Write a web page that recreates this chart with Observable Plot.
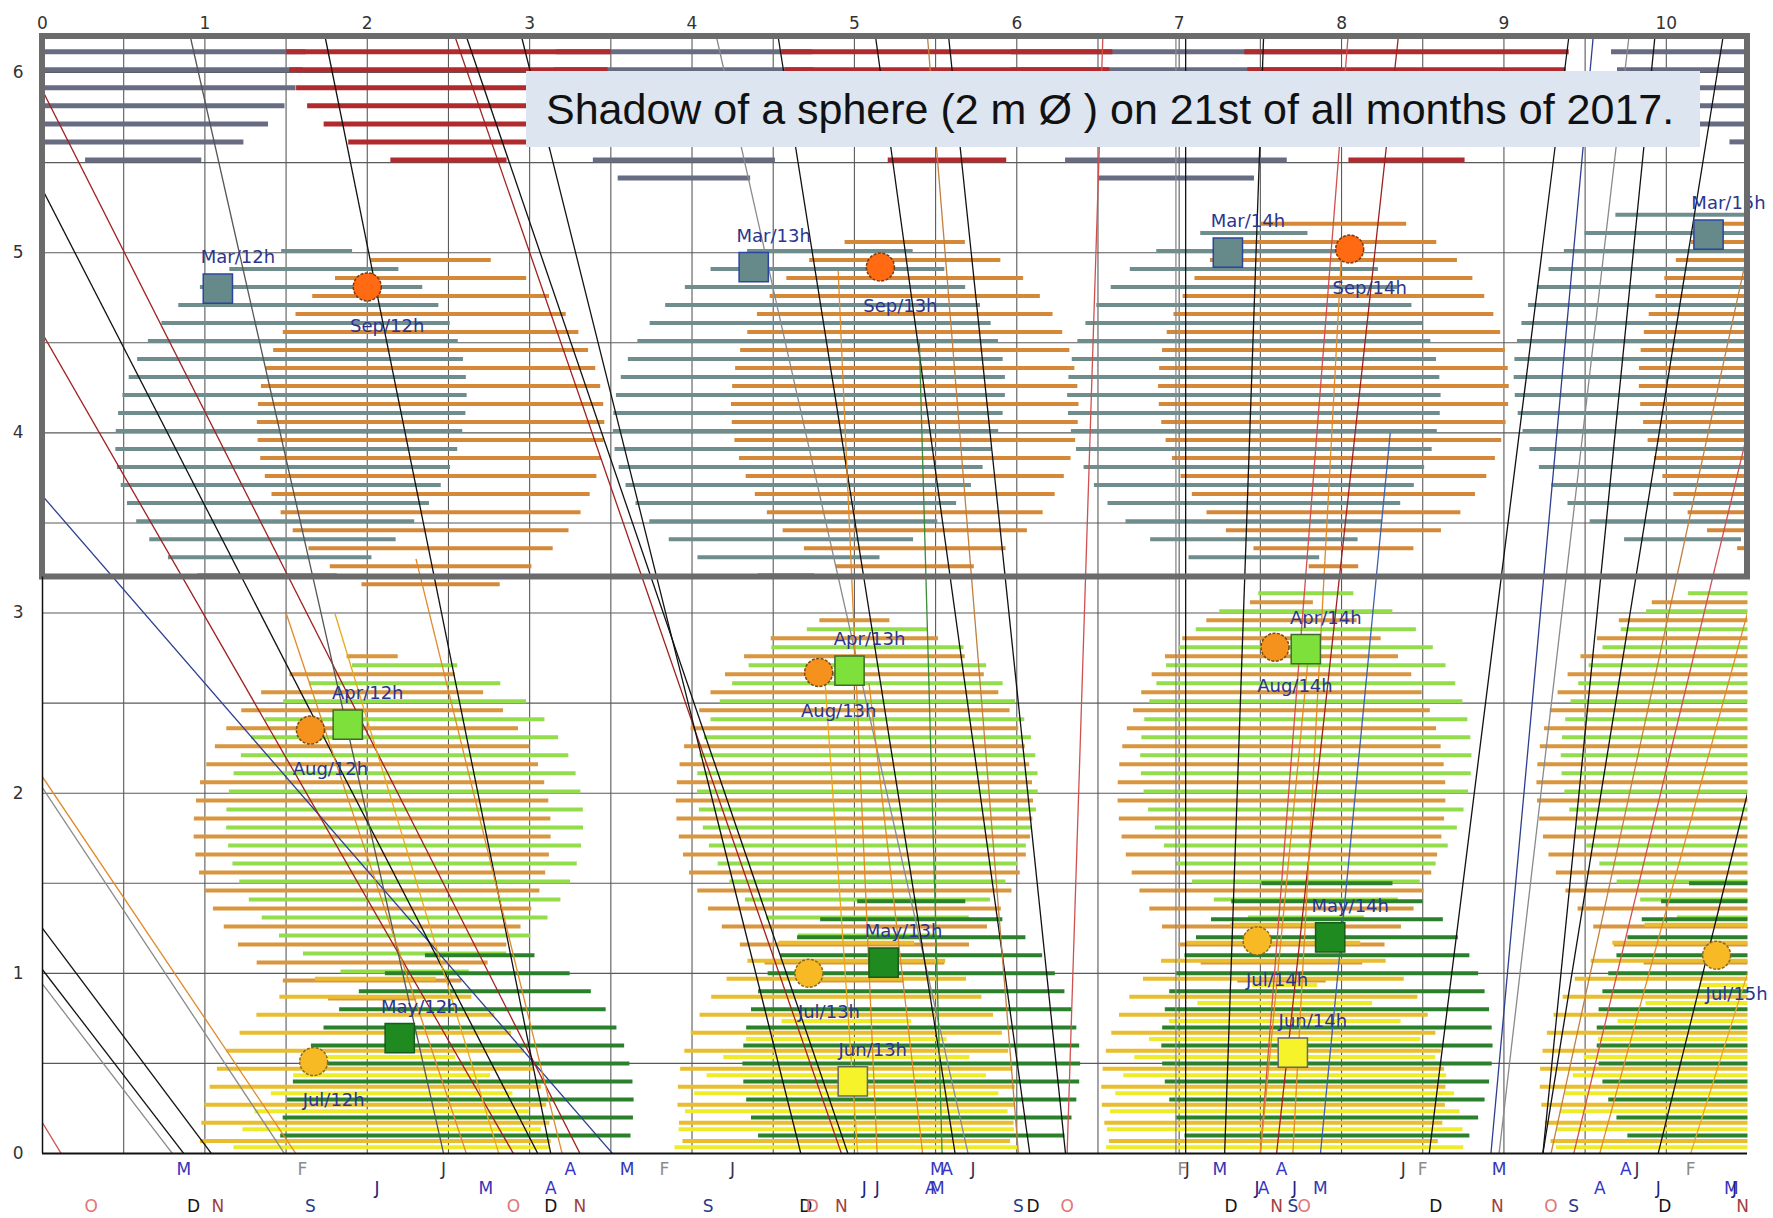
<!DOCTYPE html>
<html><head><meta charset="utf-8">
<script src="https://cdn.jsdelivr.net/npm/d3@7"></script>
<script src="https://cdn.jsdelivr.net/npm/@observablehq/plot@0.6"></script>
<style>
body{margin:0;background:#fff;}
#wrap{position:relative;width:1773px;height:1218px;}
#title{position:absolute;left:526px;top:71px;width:1174px;height:76px;background:#dce5f0;font-family:"Liberation Sans",Arial,sans-serif;font-size:43px;line-height:76px;padding-left:20px;box-sizing:border-box;color:#111;white-space:nowrap;}
</style></head><body><div id="wrap"></div>
<script>
// ---- data ----
const xTicks = [0,1,2,3,4,5,6,7,8,9,10];
const yTicks = [0,1,2,3,4,5,6];
const titleText = "Shadow of a sphere (2 m \u00D8 ) on 21st of all months of 2017.";

// shadow ellipses (hatched): month key, centre x, centre y, half width, half height, shear, row phase
const shadowKey   = ["Nov","Dec","Nov","Dec","Nov","Dec","Nov",
  "Mar","Sep","Mar","Sep","Mar","Sep","Mar","Sep",
  "Aug","Apr","Jun","Jul","May",
  "Aug","Apr","Jun","Jul","May",
  "Aug","Apr","Jun","Jul","May",
  "Aug","Apr","Jun","Jul","May"];
const shadowCx    = [0.62,2.5,3.95,5.57,6.98,8.4,10.6,
  1.53,2.39,4.72,5.31,7.46,7.95,10.1,10.75,
  2.03,2.23,2.15,2.05,2.55,
  5.0,5.08,4.95,4.95,5.35,
  7.63,7.78,7.65,7.58,7.91,
  10.3,10.45,10.4,10.3,10.6];
const shadowCy    = [6.15,6.15,6.0,6.15,6.05,6.15,6.2,
  4.08,4.05,4.15,4.15,4.2,4.25,4.32,4.3,
  1.8,1.85,-0.3,0.05,0.15,
  1.95,2.05,-0.1,0.3,0.5,
  2.0,2.2,0.05,0.35,0.6,
  2.05,2.2,0.05,0.4,0.65];
const shadowRx    = [1.0,1.0,0.8,1.02,1.02,1.0,0.95,
  1.07,1.07,1.2,1.07,1.15,1.08,1.04,0.92,
  1.1,1.1,1.05,1.08,1.08,
  1.1,1.05,1.07,1.04,1.04,
  1.01,1.02,1.1,1.06,1.02,
  1.1,1.1,1.08,1.08,1.03];
const shadowRy    = [0.68,0.68,0.68,0.68,0.72,0.68,0.6,
  0.95,0.97,0.95,0.97,0.95,1.0,0.97,1.0,
  0.97,0.9,0.9,0.98,1.0,
  1.03,0.92,0.9,0.95,0.95,
  1.08,0.95,0.9,0.95,0.98,
  1.08,0.95,0.9,0.95,0.95];
const shadowShear = [0,0,0,0,0,0,0,
  0.17,0,0.15,0,0,0,0,0,
  0,0,0,0,0.15,
  0,0,0,0,0,
  0,0,0,0,0,
  0,0,0,0,0];
const shadowPhase = [0.015,0.015,0.015,0.015,0.015,0.015,0.015,
  0.01,0.06,0.01,0.06,0.01,0.06,0.01,0.06,
  0.06,0.01,0.035,0.07,0.0,
  0.06,0.01,0.035,0.07,0.0,
  0.06,0.01,0.035,0.07,0.0,
  0.06,0.01,0.035,0.07,0.0];

// shadow centre markers with labels
const markLabel = ["Mar/12h","Sep/12h","Apr/12h","Aug/12h","May/12h","Jul/12h",
  "Mar/13h","Sep/13h","Apr/13h","Aug/13h","May/13h","Jul/13h","Jun/13h",
  "Mar/14h","Sep/14h","Apr/14h","Aug/14h","May/14h","Jul/14h","Jun/14h",
  "Mar/15h","Jul/15h"];
const markX = [1.08,2.0,1.88,1.65,2.2,1.67, 4.38,5.16,4.97,4.78,5.18,4.72,4.99, 7.30,8.05,7.78,7.59,7.93,7.48,7.70, 10.26,10.31];
const markY = [4.80,4.81,2.38,2.35,0.64,0.51, 4.92,4.92,2.68,2.67,1.06,1.00,0.40, 5.00,5.02,2.80,2.81,1.20,1.18,0.56, 5.10,1.10];

// month tracks: month, point where it leaves the top/left/right edge, x where it meets y = 0
const trackMonth = ["Oct","Feb","Dec","Dec","Feb","Aug","Mar","Nov","Dec","Nov","Jan","Dec","Nov","Dec","Dec","Aug","Aug","Jul",
  "Feb","Dec","Dec","Dec","Sep","Oct","Jul","Aug","Aug","May",
  "Feb","Dec","Dec","Nov","Oct","Dec","Mar","Feb","Dec","Aug","Aug","Apr",
  "Dec","Dec","Oct","Aug","Sep","Jul"];
const trackTopX = [0,0,0,0,0,0,0,0,0,0,0.91,1.74,2.54,2.61,2.95,2.3,1.5,1.8,
  4.15,4.53,5.13,5.58,5.45,6.53,4.82,5.09,4.9,5.4,
  6.98,7.04,7.52,8.35,8.04,9.4,9.55,9.77,9.93,8.0,7.8,8.3,
  10.35,10.5,10.5,10.5,10.5,10.5];
const trackTopY = [0.17,0.94,1.02,1.25,2.03,2.09,3.65,4.55,5.35,5.9,6.2,6.2,6.2,6.2,6.2,3.3,3.0,3.0,
  6.2,6.2,6.2,6.2,6.2,6.2,2.61,2.61,4.9,4.5,
  6.2,6.2,6.2,6.2,6.2,6.2,6.2,6.2,6.2,5.0,2.8,4.0,
  6.2,2.0,4.0,3.0,5.0,1.0];
const trackBottomX = [0.115,0.80,0.87,1.04,1.49,1.56,3.51,2.9,3.05,3.31,2.47,3.13,4.92,4.96,4.67,3.2,2.61,2.81,
  5.7,5.62,6.08,6.3,6.01,6.31,5.02,5.42,5.14,5.54,
  6.98,7.04,7.28,7.6,7.5,8.54,8.92,8.97,9.24,7.7,7.5,7.87,
  9.24,9.95,9.43,9.59,9.29,10.15];

// month letters under the axis: letter, month, x, row
const tagText = ["M","F","J","A","M","F","J","M","A","J","F","J","M","A","J","F","M","A","J","F",
  "J","M","A","J","J","A","M","J","A","J","M","A","J","M","J",
  "O","D","N","S","O","D","N","S","D","D","N","S","D","O","D","N","S","O","D","N","O","S","D","N"];
const tagMonth = ["Mar","Feb","Jan","Apr","Mar","Feb","Jan","Mar","Apr","Jan","Feb","Jan","Mar","Apr","Jan","Feb","Mar","Apr","Jan","Feb",
  "Jun","May","Aug","Jun","Jul","Aug","May","Jun","Aug","Jul","May","Aug","Jul","May","Jul",
  "Oct","Dec","Nov","Sep","Oct","Dec","Nov","Sep","Dec","Oct","Nov","Sep","Dec","Oct","Dec","Nov","Sep","Oct","Dec","Nov","Oct","Sep","Dec","Nov"];
const tagX = [0.87,1.6,2.47,3.25,3.6,3.83,4.25,5.51,5.57,5.73,7.02,7.05,7.25,7.63,8.38,8.5,8.97,9.75,9.82,10.15,
  2.06,2.73,3.13,5.06,5.14,5.47,5.51,7.48,7.52,7.71,7.87,9.59,9.95,10.4,10.42,
  0.3,0.93,1.08,1.65,2.9,3.13,3.31,4.1,4.7,4.74,4.92,6.01,6.1,6.31,7.32,7.6,7.7,7.77,8.58,8.96,9.29,9.43,9.99,10.47];
const tagRow = [1,1,1,1,1,1,1,1,1,1,1,1,1,1,1,1,1,1,1,1,
  2,2,2,2,2,2,2,2,2,2,2,2,2,2,2,
  3,3,3,3,3,3,3,3,3,3,3,3,3,3,3,3,3,3,3,3,3,3,3,3];

// ---- styles ----
const hatchColor = {Dec:"#b02a2e",Nov:"#676c82",Mar:"#6f8d8d",Sep:"#d48838",Apr:"#93dc4c",Aug:"#d9963e",May:"#2b812b",Jul:"#e9bd2e",Jun:"#eeec2a"};
const markFill = {Mar:"#66898a",Sep:"#ff6a12",Apr:"#7ee03a",Aug:"#f5921e",May:"#1f8a1f",Jul:"#f7b924",Jun:"#f7f32a"};
const markStroke = {Mar:"#2a45a0",Sep:"#7a3a10",Apr:"#3f6a2a",Aug:"#7a4a10",May:"#1a5a1a",Jul:"#8a6a20",Jun:"#666"};
const trackColor = {Jan:"#555",Feb:"#8a8a8a",Mar:"#2d3f8f",Apr:"#4060b0",May:"#3a8a3a",Jun:"#e0d000",Jul:"#e8a820",Aug:"#e08a2a",Sep:"#c08040",Oct:"#d05050",Nov:"#a02020",Dec:"#111"};
const tagColor = {Jan:"#333348",Feb:"#8a8a8a",Mar:"#3535b8",Apr:"#3535c8",May:"#3535b8",Jun:"#202080",Jul:"#202080",Aug:"#3535c8",Sep:"#2a3a8a",Oct:"#e07878",Nov:"#a04040",Dec:"#151515"};

// ---- derived tables ----
const shadows = shadowKey.map((k,i)=>({key:k,cx:shadowCx[i],cy:shadowCy[i],rx:shadowRx[i],ry:shadowRy[i],sh:shadowShear[i],ph:shadowPhase[i]}));
const rows = [];
for (const e of shadows) {
  const k0 = Math.ceil((e.cy - e.ry - e.ph)/0.1), k1 = Math.floor((e.cy + e.ry - e.ph)/0.1);
  for (let k=k0;k<=k1;k++){
    const y = +(e.ph + k*0.1).toFixed(4);
    if (y < 0.03 || y > 6.2) continue;
    const t = (y - e.cy)/e.ry; if (Math.abs(t) >= 1) continue;
    const h = e.rx*Math.sqrt(1-t*t), c = e.cx + e.sh*(y - e.cy);
    const xa = Math.max(0, c-h), xb = Math.min(10.5, c+h);
    if (xb - xa < 0.02) continue;
    rows.push({x1:xa,x2:xb,y,key:e.key,top:e.cy>5.5});
  }
}
const marks = markLabel.map((l,i)=>({label:l,m:l.slice(0,3),x:markX[i],y:markY[i]}));
const tracks = trackMonth.map((m,i)=>({m,x1:trackTopX[i],y1:trackTopY[i],x2:trackBottomX[i],y2:0}));
const tags = tagText.map((t,i)=>({t,m:tagMonth[i],x:tagX[i],row:tagRow[i]}));
const isSquare = d => ["Mar","Apr","May","Jun"].includes(d.m);
const squares = marks.filter(isSquare), circles = marks.filter(d=>!isSquare(d));
const hatchLink = (data, w) => Plot.link(data,{x1:"x1",x2:"x2",y1:"y",y2:"y",stroke:d=>hatchColor[d.key],strokeWidth:w});

const chart = Plot.plot({
  width:1773, height:1218, marginLeft:42, marginRight:26, marginTop:36, marginBottom:65,
  x:{domain:[0,10.5]}, y:{domain:[0,6.2]},
  style:{fontFamily:'"DejaVu Sans", Tahoma, sans-serif', background:"#fff"},
  marks:[
    Plot.ruleX(d3.range(0.5,10.5,0.5),{stroke:"#5a5a5a",strokeWidth:1.1}),
    Plot.ruleY(d3.range(0.5,6.1,0.5),{stroke:"#5a5a5a",strokeWidth:1.1}),
    hatchLink(rows.filter(d=>d.top && d.key==="Nov"),5),
    hatchLink(rows.filter(d=>d.top && d.key==="Dec"),5),
    hatchLink(rows.filter(d=>!d.top),4),
    Plot.link(tracks,{x1:"x1",y1:"y1",x2:"x2",y2:"y2",stroke:d=>trackColor[d.m],strokeWidth:1.3,clip:true}),
    Plot.dot(squares,{x:"x",y:"y",symbol:"square",r:16.5,fill:d=>markFill[d.m],stroke:d=>markStroke[d.m],strokeWidth:1.5}),
    Plot.dot(circles,{x:"x",y:"y",symbol:"circle",r:14,fill:d=>markFill[d.m],stroke:d=>markStroke[d.m],strokeWidth:1.5,strokeDasharray:"3,1.5"}),
    Plot.text(squares,{x:"x",y:"y",text:"label",dx:20,dy:-31,fill:"#2b3590",fontSize:18}),
    Plot.text(circles,{x:"x",y:"y",text:"label",dx:20,dy:39,fill:"#2b3590",fontSize:18}),
    Plot.rect([0],{x1:0,x2:10.5,y1:3.2,y2:6.2,stroke:"#6b6b6b",strokeWidth:6,fill:"none"}),
    Plot.ruleY([0],{x1:0,x2:10.5,stroke:"#111",strokeWidth:2}),
    Plot.ruleX([0],{y1:0,y2:3.2,stroke:"#111",strokeWidth:1.5}),
    Plot.axisX(xTicks,{anchor:"top",tickSize:0,tickPadding:8,fontSize:17,fill:"#333",label:null,tickFormat:d=>String(d)}),
    Plot.axisY(yTicks,{anchor:"left",tickSize:0,tickPadding:19,fontSize:17,fill:"#333",label:null,tickFormat:d=>String(d)}),
    Plot.text(tags.filter(d=>d.row===1),{x:"x",y:0,text:"t",dy:16,fill:d=>tagColor[d.m],fontSize:17}),
    Plot.text(tags.filter(d=>d.row===2),{x:"x",y:0,text:"t",dy:35,fill:d=>tagColor[d.m],fontSize:17}),
    Plot.text(tags.filter(d=>d.row===3),{x:"x",y:0,text:"t",dy:53,fill:d=>tagColor[d.m],fontSize:17})
  ]
});
const wrap = document.getElementById("wrap");
wrap.appendChild(chart);
const t = document.createElement("div"); t.id="title"; t.textContent = titleText; wrap.appendChild(t);
</script></body></html>
